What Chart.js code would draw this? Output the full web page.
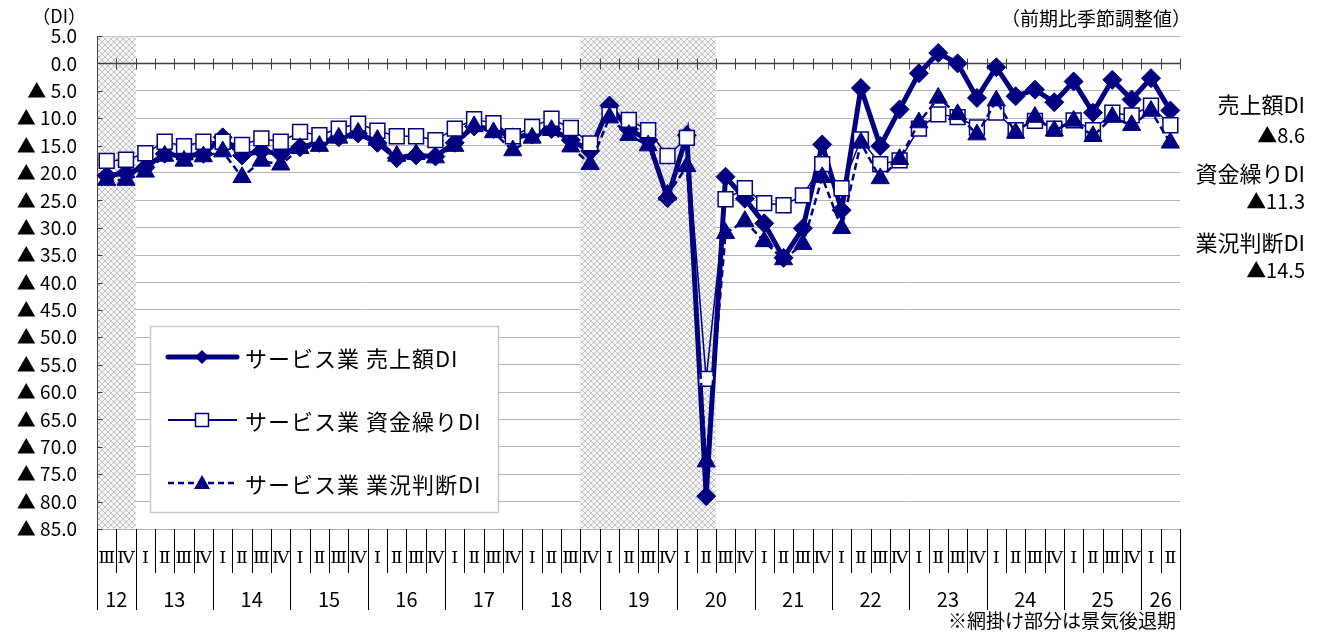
<!DOCTYPE html>
<html><head><meta charset="utf-8">
<script src="https://cdn.jsdelivr.net/npm/chart.js@4"></script>
<style>
html,body{margin:0;padding:0;background:#fff;}
#wrap{position:relative;width:1322px;height:637px;overflow:hidden;}
#c{position:absolute;left:0;top:0;}
.t{position:absolute;font-family:"Noto Sans CJK JP","Noto Sans",sans-serif;color:#000;white-space:nowrap;line-height:1.2;transform:translateY(-50%);}
</style></head><body>
<div id="wrap">
<canvas id="c" width="1322" height="637"></canvas>
<div class="t" style="right:1236px;top:16px;font-size:18px">（DI）</div>
<div class="t" style="right:131px;top:18px;font-size:19px">（前期比季節調整値）</div>
<div class="t" id="lab0" style="right:17px;top:103px;font-size:22px"></div>
<div class="t" id="val0" style="right:17px;top:135px;font-size:20px"></div>
<div class="t" id="lab1" style="right:17px;top:172px;font-size:22px"></div>
<div class="t" id="val1" style="right:17px;top:201px;font-size:20px"></div>
<div class="t" id="lab2" style="right:17px;top:241px;font-size:22px"></div>
<div class="t" id="val2" style="right:17px;top:270px;font-size:20px"></div>
<div class="t" style="right:146px;top:620px;font-size:19px">※網掛け部分は景気後退期</div>
<div class="t" id="leg0" style="left:245px;top:357px;font-size:22px;letter-spacing:1px"></div>
<div class="t" id="leg1" style="left:245px;top:420px;font-size:22px;letter-spacing:1px"></div>
<div class="t" id="leg2" style="left:245px;top:483px;font-size:22px;letter-spacing:1px"></div>
</div>
<script>
// ---- data ----
const categories = [
 '12-Ⅲ','12-Ⅳ',
 '13-Ⅰ','13-Ⅱ','13-Ⅲ','13-Ⅳ',
 '14-Ⅰ','14-Ⅱ','14-Ⅲ','14-Ⅳ',
 '15-Ⅰ','15-Ⅱ','15-Ⅲ','15-Ⅳ',
 '16-Ⅰ','16-Ⅱ','16-Ⅲ','16-Ⅳ',
 '17-Ⅰ','17-Ⅱ','17-Ⅲ','17-Ⅳ',
 '18-Ⅰ','18-Ⅱ','18-Ⅲ','18-Ⅳ',
 '19-Ⅰ','19-Ⅱ','19-Ⅲ','19-Ⅳ',
 '20-Ⅰ','20-Ⅱ','20-Ⅲ','20-Ⅳ',
 '21-Ⅰ','21-Ⅱ','21-Ⅲ','21-Ⅳ',
 '22-Ⅰ','22-Ⅱ','22-Ⅲ','22-Ⅳ',
 '23-Ⅰ','23-Ⅱ','23-Ⅲ','23-Ⅳ',
 '24-Ⅰ','24-Ⅱ','24-Ⅲ','24-Ⅳ',
 '25-Ⅰ','25-Ⅱ','25-Ⅲ','25-Ⅳ',
 '26-Ⅰ','26-Ⅱ'
];
const salesDI = [
 -20.5,-20.0,
 -19.0,-16.5,-17.0,-16.5,
 -13.5,-16.8,-16.0,-16.5,
 -15.3,-14.5,-13.5,-12.8,
 -14.5,-17.3,-16.8,-17.0,
 -14.5,-11.5,-12.0,-13.5,
 -13.0,-12.0,-14.0,-16.0,
 -7.7,-12.0,-14.0,-24.6,
 -13.1,-79.0,-20.7,-24.7,
 -29.2,-35.5,-30.1,-14.8,
 -26.8,-4.5,-15.1,-8.4,
 -1.8,1.9,0.0,-6.3,
 -0.7,-6.0,-4.8,-7.1,
 -3.3,-9.0,-3.0,-6.6,
 -2.7,-8.6
];
const fundingDI = [
 -17.8,-17.6,
 -16.4,-14.3,-15.1,-14.3,
 -14.3,-14.9,-13.7,-14.3,
 -12.5,-13.1,-11.9,-11.0,
 -12.3,-13.3,-13.3,-14.0,
 -11.9,-10.2,-10.9,-13.3,
 -11.6,-10.1,-11.8,-14.6,
 -9.4,-10.3,-12.2,-16.9,
 -13.6,-57.6,-24.8,-22.8,
 -25.5,-25.9,-24.1,-18.4,
 -22.8,-13.9,-18.4,-17.7,
 -11.9,-9.3,-9.8,-11.7,
 -9.0,-12.2,-10.5,-11.9,
 -10.4,-12.2,-9.0,-9.5,
 -7.7,-11.3
];
const businessDI = [
 -21.3,-21.3,
 -19.8,-16.9,-17.8,-17.0,
 -16.1,-20.8,-17.8,-18.5,
 -15.5,-15.1,-13.6,-12.7,
 -14.0,-16.9,-16.6,-17.2,
 -15.1,-11.5,-12.6,-15.9,
 -13.6,-12.2,-15.2,-18.4,
 -9.9,-13.1,-15.0,-24.0,
 -18.8,-72.7,-31.0,-28.8,
 -32.5,-35.8,-33.0,-20.8,
 -30.1,-14.5,-21.0,-17.5,
 -10.8,-6.3,-9.3,-13.0,
 -6.8,-12.7,-9.8,-12.3,
 -10.5,-13.3,-9.8,-11.3,
 -8.7,-14.5
];
const seriesNames = ['サービス業 売上額DI','サービス業 資金繰りDI','サービス業 業況判断DI'];
const shortNames = ['売上額DI','資金繰りDI','業況判断DI'];
const yMin = -85, yMax = 5, yStep = 5;
const recessions = [['12-Ⅲ','12-Ⅳ'],['18-Ⅳ','20-Ⅱ']];

const NAVY = '#000080';
const fmt = v => v < 0 ? '▲' + Math.abs(v).toFixed(1) : v.toFixed(1);
const fmtTick = v => v < 0 ? '▲ ' + Math.abs(v).toFixed(1) : v.toFixed(1);

// text overlays
const lastVals = [salesDI, fundingDI, businessDI].map(a => a[a.length - 1]);
shortNames.forEach((n, i) => {
  document.getElementById('lab' + i).textContent = n;
  document.getElementById('val' + i).textContent = fmt(lastVals[i]);
  document.getElementById('leg' + i).textContent = seriesNames[i];
});

// hatch pattern
const tile = document.createElement('canvas');
tile.width = 6; tile.height = 6;
(() => {
  const g = tile.getContext('2d');
  g.fillStyle = '#f4f4f4'; g.fillRect(0, 0, 6, 6);
  g.fillStyle = '#c4c4c4';
  for (let i = 0; i < 6; i++) { g.fillRect(i, i, 1, 1); g.fillRect(5 - i, i, 1, 1); }
})();

const FONT = '"Noto Sans CJK JP","Noto Sans",sans-serif';
const ROMAN_FONT = '"DejaVu Serif","Liberation Serif",serif';

const decor = {
  id: 'decor',
  beforeDatasetsDraw(chart) {
    const { ctx, chartArea: a, scales: { x, y } } = chart;
    const half = (x.getPixelForValue(1) - x.getPixelForValue(0)) / 2;
    ctx.save();
    ctx.fillStyle = ctx.createPattern(tile, 'repeat');
    recessions.forEach(([s, e]) => {
      const x0 = x.getPixelForValue(categories.indexOf(s)) - half;
      const x1 = x.getPixelForValue(categories.indexOf(e)) + half;
      ctx.fillRect(x0, a.top + 0.5, x1 - x0, a.bottom - a.top - 1);
    });
    // zero axis
    const y0 = Math.round(y.getPixelForValue(0)) + 0.5;
    ctx.strokeStyle = '#404040'; ctx.lineWidth = 1.5;
    ctx.beginPath(); ctx.moveTo(a.left, y0); ctx.lineTo(a.right, y0); ctx.stroke();
    ctx.lineWidth = 1;
    ctx.beginPath();
    for (let i = 0; i <= categories.length; i++) {
      const xb = Math.round(i < categories.length ? x.getPixelForValue(i) - half : x.getPixelForValue(i - 1) + half) + 0.5;
      ctx.moveTo(xb, y0 - 5); ctx.lineTo(xb, y0 + 6);
    }
    ctx.stroke();
    // left axis
    ctx.strokeStyle = '#404040'; ctx.lineWidth = 1;
    ctx.beginPath();
    const xl = Math.round(a.left) + 0.5;
    ctx.moveTo(xl, a.top); ctx.lineTo(xl, a.bottom);
    for (let v = yMin; v <= yMax; v += yStep) {
      const yy = Math.round(y.getPixelForValue(v)) + 0.5;
      ctx.moveTo(xl, yy); ctx.lineTo(xl + 5, yy);
    }
    ctx.stroke();
    ctx.restore();
  },
  afterDraw(chart) {
    const { ctx, chartArea: a, scales: { x } } = chart;
    const half = (x.getPixelForValue(1) - x.getPixelForValue(0)) / 2;
    const n = categories.length;
    ctx.save();
    // quarter labels
    ctx.fillStyle = '#000';
    ctx.textAlign = 'center'; ctx.textBaseline = 'middle';
    ctx.font = '17.5px ' + ROMAN_FONT;
    categories.forEach((c, i) => {
      ctx.fillText(c.split('-')[1], x.getPixelForValue(i), 558);
    });
    // dividers
    ctx.strokeStyle = '#000'; ctx.lineWidth = 1;
    ctx.beginPath();
    const yearOf = i => categories[i].split('-')[0];
    for (let i = 0; i <= n; i++) {
      const xb = Math.round(i < n ? x.getPixelForValue(i) - half : x.getPixelForValue(n - 1) + half) + 0.5;
      const isYear = i === 0 || i === n || yearOf(i) !== yearOf(i - 1);
      ctx.moveTo(xb, a.bottom); ctx.lineTo(xb, isYear ? 610 : 573);
    }
    ctx.stroke();
    // year labels
    ctx.font = '20px ' + FONT;
    let start = 0;
    for (let i = 1; i <= n; i++) {
      if (i === n || yearOf(i) !== yearOf(start)) {
        const cx = (x.getPixelForValue(start) + x.getPixelForValue(i - 1)) / 2;
        ctx.fillText(yearOf(start), cx, 599);
        start = i;
      }
    }
    // legend box
    ctx.fillStyle = '#fff';
    ctx.fillRect(150, 326, 349, 187);
    ctx.strokeStyle = '#c8c8c8'; ctx.lineWidth = 1.5;
    ctx.strokeRect(150.5, 326.5, 348, 186);
    const ly = [357, 420, 483];
    ctx.strokeStyle = NAVY; ctx.fillStyle = NAVY;
    // sales sample
    ctx.lineWidth = 5; ctx.lineCap = 'round';
    ctx.beginPath(); ctx.moveTo(168, ly[0]); ctx.lineTo(237, ly[0]); ctx.stroke();
    ctx.lineCap = 'butt';
    ctx.beginPath(); ctx.moveTo(202, ly[0] - 7); ctx.lineTo(209, ly[0]); ctx.lineTo(202, ly[0] + 7); ctx.lineTo(195, ly[0]); ctx.closePath(); ctx.fill();
    // funding sample
    ctx.lineWidth = 2;
    ctx.beginPath(); ctx.moveTo(168, ly[1]); ctx.lineTo(237, ly[1]); ctx.stroke();
    ctx.fillStyle = '#fff'; ctx.fillRect(195, ly[1] - 7, 14, 14);
    ctx.lineWidth = 1.5; ctx.strokeRect(195.5, ly[1] - 6.5, 13, 13);
    // business sample
    ctx.fillStyle = NAVY;
    ctx.lineWidth = 2.5; ctx.setLineDash([6, 4]);
    ctx.beginPath(); ctx.moveTo(168, ly[2]); ctx.lineTo(237, ly[2]); ctx.stroke();
    ctx.setLineDash([]);
    ctx.beginPath(); ctx.moveTo(202, ly[2] - 8); ctx.lineTo(210, ly[2] + 6); ctx.lineTo(194, ly[2] + 6); ctx.closePath(); ctx.fill();
    ctx.restore();
  }
};

new Chart(document.getElementById('c'), {
  type: 'line',
  data: {
    labels: categories,
    datasets: [
      { label: seriesNames[0], data: salesDI, order: 3,
        borderColor: NAVY, backgroundColor: NAVY, borderWidth: 5,
        pointStyle: 'rectRot', pointRadius: 9.5, pointBackgroundColor: NAVY, pointBorderColor: NAVY, pointBorderWidth: 1 },
      { label: seriesNames[1], data: fundingDI, order: 2,
        borderColor: NAVY, backgroundColor: '#fff', borderWidth: 1.5,
        pointStyle: 'rect', pointRadius: 10.5, pointBackgroundColor: '#fff', pointBorderColor: NAVY, pointBorderWidth: 1.5 },
      { label: seriesNames[2], data: businessDI, order: 1,
        borderColor: NAVY, backgroundColor: NAVY, borderWidth: 2.5, borderDash: [7, 4],
        pointStyle: 'triangle', pointRadius: 10.5, pointBackgroundColor: NAVY, pointBorderColor: NAVY, pointBorderWidth: 1 }
    ]
  },
  options: {
    responsive: false, animation: false, devicePixelRatio: 1,
    layout: { padding: { top: 36, right: 142, bottom: 108, left: 0 } },
    plugins: { legend: { display: false }, tooltip: { enabled: false } },
    elements: { line: { tension: 0 } },
    scales: {
      x: { type: 'category', display: false, offset: true },
      y: {
        min: yMin, max: yMax,
        afterFit: s => { s.width = 97; },
        grid: { color: '#b4b4b4', lineWidth: 1, drawTicks: false },
        border: { display: false },
        ticks: { stepSize: yStep, padding: 20, color: '#000',
          font: { family: FONT, size: 19 }, callback: v => fmtTick(v) }
      }
    }
  },
  plugins: [decor]
});
</script>
</body></html>
